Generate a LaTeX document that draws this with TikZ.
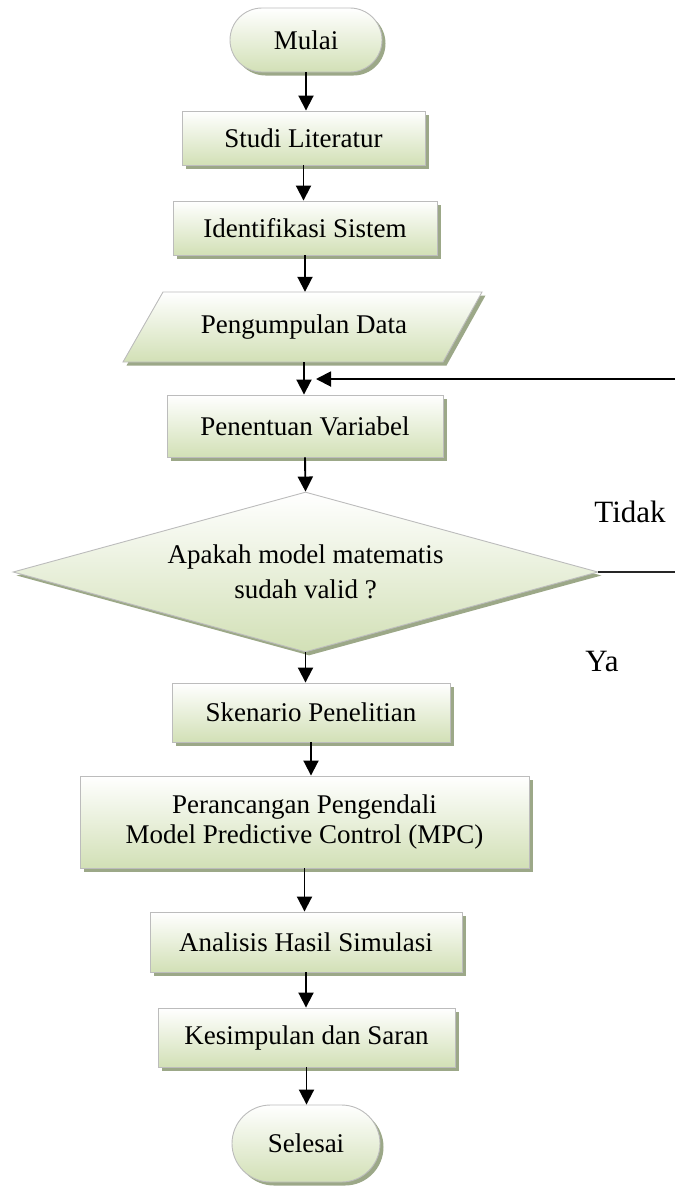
\documentclass[tikz,border=0pt]{standalone}
\usepackage{fontspec}
\setmainfont{Liberation Serif}
\usetikzlibrary{shapes.geometric,shapes.misc,shadows,arrows.meta}
\definecolor{boxgreen}{RGB}{210,224,182}
\definecolor{boxline}{RGB}{188,188,188}
\definecolor{shadowgreen}{RGB}{156,168,136}
\begin{document}
\begin{tikzpicture}[x=1pt,y=-1pt,
  shapefill/.style={draw=boxline, line width=0.9pt, top color=white, bottom color=boxgreen,
    drop shadow={shadow xshift=3.5pt, shadow yshift=-3.5pt, fill=shadowgreen, opacity=1}},
  txt/.style={inner sep=0pt, align=center, text=black, font=\fontsize{27}{30}\selectfont},
  procbox/.style={shapefill, txt, rectangle},
  term/.style={shapefill, txt, rounded rectangle},
  decision/.style={shapefill, txt, diamond},
  arr/.style={-{Triangle[width=15pt,length=15pt]}, line width=1.9pt},
  flow/.style={line width=1.9pt, draw=black!85},
  lbl/.style={font=\fontsize{31}{36}\selectfont, inner sep=0pt}
]
\useasboundingbox (0,0) rectangle (675,1189);

\node[term, minimum width=152pt, minimum height=64pt] (mulai) at (306,40) {Mulai};
\node[procbox, minimum width=243pt, minimum height=54pt] (studi) at (303.5,138) {Studi Literatur};
\node[procbox, minimum width=264pt, minimum height=54pt] (ident) at (305,228) {Identifikasi Sistem};
\path[shapefill] (163,292) -- (482,292) -- (443,362) -- (123,362) -- cycle;
\node[txt, minimum width=320pt, minimum height=70pt] (data) at (304,327) {Pengumpulan Data};
\node[procbox, minimum width=276pt, minimum height=62pt] (var) at (305,426) {Penentuan Variabel};
\node[decision, minimum width=585pt, minimum height=160pt, aspect=3.66, font=\fontsize{27}{35}\selectfont] (dec) at (305.5,572) {Apakah model matematis\\sudah valid ?};
\node[procbox, minimum width=278pt, minimum height=59pt] (sken) at (311,712.5) {Skenario Penelitian};
\node[procbox, minimum width=449pt, minimum height=92pt] (mpc) at (304.5,822) {Perancangan Pengendali\\Model Predictive Control (MPC)};
\node[procbox, minimum width=312pt, minimum height=60pt] (anal) at (306,942) {Analisis Hasil Simulasi};
\node[procbox, minimum width=297pt, minimum height=59pt] (kes) at (306.5,1037.5) {Kesimpulan dan Saran};
\node[term, minimum width=148pt, minimum height=77pt] (sel) at (306,1143.5) {Selesai};

\draw[arr] (mulai.south) -- (mulai.south |- studi.north);
\draw[arr] (studi.south) -- (studi.south |- ident.north);
\draw[arr] (ident.south) -- (ident.south |- data.north);
\draw[arr] (data.south) -- (data.south |- var.north);
\draw[arr] (var.south) -- (dec.north);
\draw[arr] (dec.south) -- (dec.south |- sken.north);
\draw[arr] (sken.south) -- (sken.south |- mpc.north);
\draw[arr] (mpc.south) -- (mpc.south |- anal.north);
\draw[arr] (anal.south) -- (anal.south |- kes.north);
\draw[arr] (kes.south) -- (kes.south |- sel.north);

\coordinate (edgeR) at (675,572);
\coordinate (edgeT) at (675,379);
\coordinate (join) at (316,379);
\draw[flow] (dec.east) -- (edgeR);
\draw[arr] (edgeT) -- (join);

\node[lbl] (tidak) at (630,512) {Tidak};
\node[lbl] (ya) at (602,661) {Ya};
\end{tikzpicture}
\end{document}
